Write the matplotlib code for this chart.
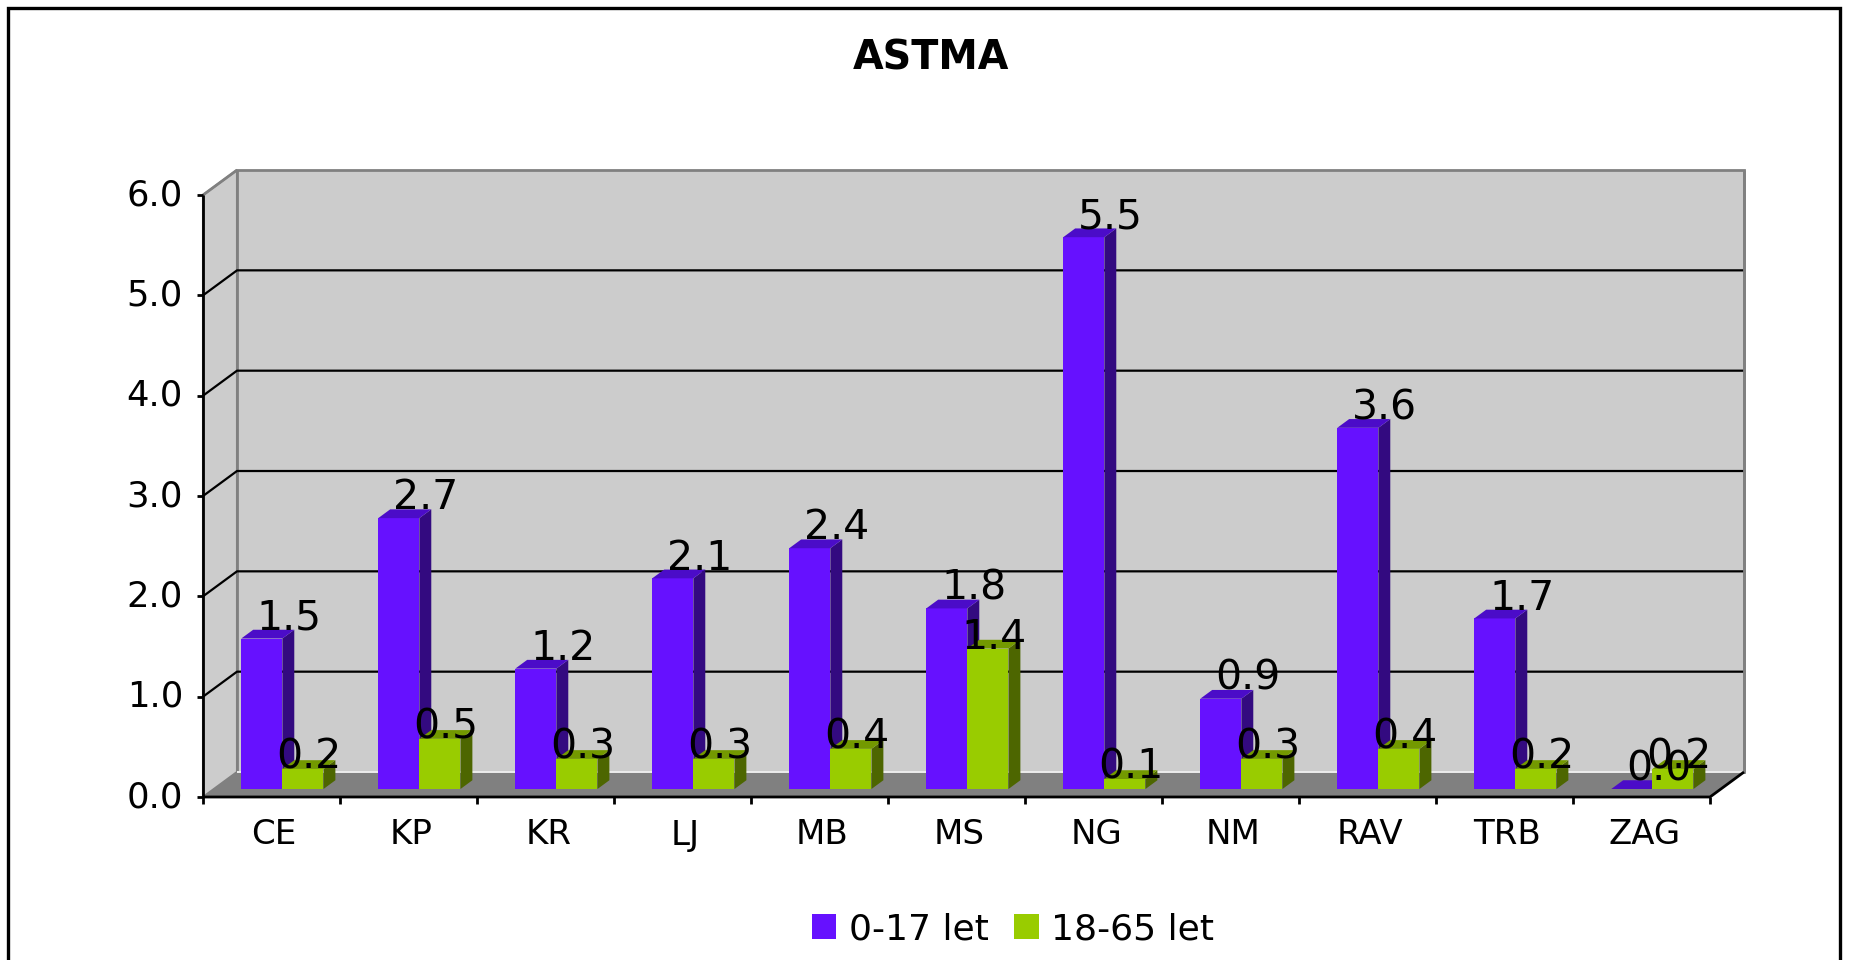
import matplotlib
matplotlib.use('Agg')
import matplotlib.pyplot as plt
from matplotlib.patches import Polygon, Rectangle, Patch

categories = ['CE', 'KP', 'KR', 'LJ', 'MB', 'MS', 'NG', 'NM', 'RAV', 'TRB', 'ZAG']
kids = [1.5, 2.7, 1.2, 2.1, 2.4, 1.8, 5.5, 0.9, 3.6, 1.7, 0.0]
adults = [0.2, 0.5, 0.3, 0.3, 0.4, 1.4, 0.1, 0.3, 0.4, 0.2, 0.2]
series_names = ['0-17 let', '18-65 let']
yticks = [0, 1, 2, 3, 4, 5, 6]

W, H = 1851, 960
PX_X = 137.0      # px per category
PX_Y = 100.33     # px per value unit
DX = 34 / PX_X    # depth offset (wall)
DY = 25 / PX_Y
Z0, Z1 = 0.32, 0.67   # bar depth range
BW = 0.3

front = {'kids': '#6611FF', 'adults': '#99CC00'}
top = {'kids': '#4B0CC8', 'adults': '#739900'}
side = {'kids': '#330A80', 'adults': '#4D6600'}

fig = plt.figure(figsize=(W / 100, H / 100), dpi=100)
n = len(categories)
ymax = yticks[-1]
ax = fig.add_axes([203 / W, (H - 797) / H, (n + DX) * PX_X / W, (ymax + DY) * PX_Y / H])
ax.set_xlim(0, n + DX)
ax.set_ylim(0, ymax + DY)
ax.axis('off')


def poly(pts, fc, ec='none', lw=0, z=1):
    ax.add_patch(Polygon(pts, closed=True, facecolor=fc, edgecolor=ec,
                         linewidth=lw, zorder=z, clip_on=False))


def line(xs, ys, c='black', lw=1.6, z=3):
    ax.plot(xs, ys, color=c, linewidth=lw, zorder=z, clip_on=False,
            solid_capstyle='butt')


# walls and floor
poly([(0, 0), (DX, DY), (DX, ymax + DY), (0, ymax)], '#CCCCCC', '#808080', 1.5)
poly([(DX, DY), (n + DX, DY), (n + DX, ymax + DY), (DX, ymax + DY)],
     '#CCCCCC', '#808080', 2)
poly([(0, 0), (n, 0), (n + DX, DY), (DX, DY)], '#808080', z=2)
line([DX, n + DX], [DY, DY], c='white', lw=1.2, z=2)
line([n + DX, n + DX], [DY, ymax + DY], c='#808080', lw=2, z=2)

# grid lines
for v in yticks[1:-1]:
    line([0, DX, n + DX], [v, v + DY, v + DY], lw=1.6, z=1.5)
line([0, DX], [ymax, ymax + DY], c='#808080', lw=2, z=1.5)

# axes
line([0, 0], [0, ymax], lw=2)
line([0, n, n + DX], [0, 0, DY], lw=2)
for v in yticks:
    line([-6 / PX_X, 0], [v, v], lw=2)
    ax.text(-20 / PX_X, v, '%.1f' % v, ha='right', va='center', fontsize=25.5)
for i in range(n + 1):
    line([i, i], [0, -7 / PX_Y], lw=2)
for i, c in enumerate(categories):
    ax.text(i + 0.52, -38 / PX_Y, c, ha='center', va='center', fontsize=24.5)


def bar3d(x0, v, key):
    b0, b1 = Z0 * DY, Z1 * DY
    sx0, sx1 = Z0 * DX, Z1 * DX
    x1 = x0 + BW
    ax.bar(x0 + sx0, v, width=BW, bottom=b0, align='edge', color=front[key],
           linewidth=0, zorder=4, clip_on=False)
    poly([(x1 + sx0, b0), (x1 + sx1, b1), (x1 + sx1, v + b1), (x1 + sx0, v + b0)],
         side[key], z=4)
    poly([(x0 + sx0, v + b0), (x1 + sx0, v + b0), (x1 + sx1, v + b1), (x0 + sx1, v + b1)],
         top[key], z=4)


for i in range(n):
    bar3d(i + 0.2, kids[i], 'kids')
    bar3d(i + 0.5, adults[i], 'adults')

# data labels
for i in range(n):
    cx = i + 0.2 + BW / 2 + Z0 * DX
    ax.text(cx + 27 / PX_X, kids[i] + Z1 * DY, '%.1f' % kids[i], ha='center',
            va='baseline', fontsize=29.5, zorder=6)
    cx = i + 0.5 + BW / 2 + Z0 * DX
    ax.text(cx + 6 / PX_X, adults[i] + Z0 * DY + 11 / PX_Y, '%.1f' % adults[i],
            ha='center', va='center', fontsize=29.5, zorder=6)

# title
fig.text(931 / W, 1 - 59 / H, 'ASTMA', ha='center', va='center', fontsize=28.5,
         fontweight='bold')

# legend
handles = [Patch(facecolor=front['kids'], edgecolor='none'),
           Patch(facecolor=front['adults'], edgecolor='none')]
fig.legend(handles, series_names, loc='center', bbox_to_anchor=(1013 / W, 1 - 929 / H),
           ncol=2, frameon=False, fontsize=26, handlelength=0.68, handleheight=0.68,
           handletextpad=0.35, columnspacing=0.7)

# outer border
fig.patches.append(Rectangle((8 / W, -0.05), (1840 - 8) / W, 1 - 8 / H + 0.05,
                             transform=fig.transFigure, fill=False,
                             edgecolor='black', linewidth=2.4))

fig.savefig('out.png', dpi=100)
